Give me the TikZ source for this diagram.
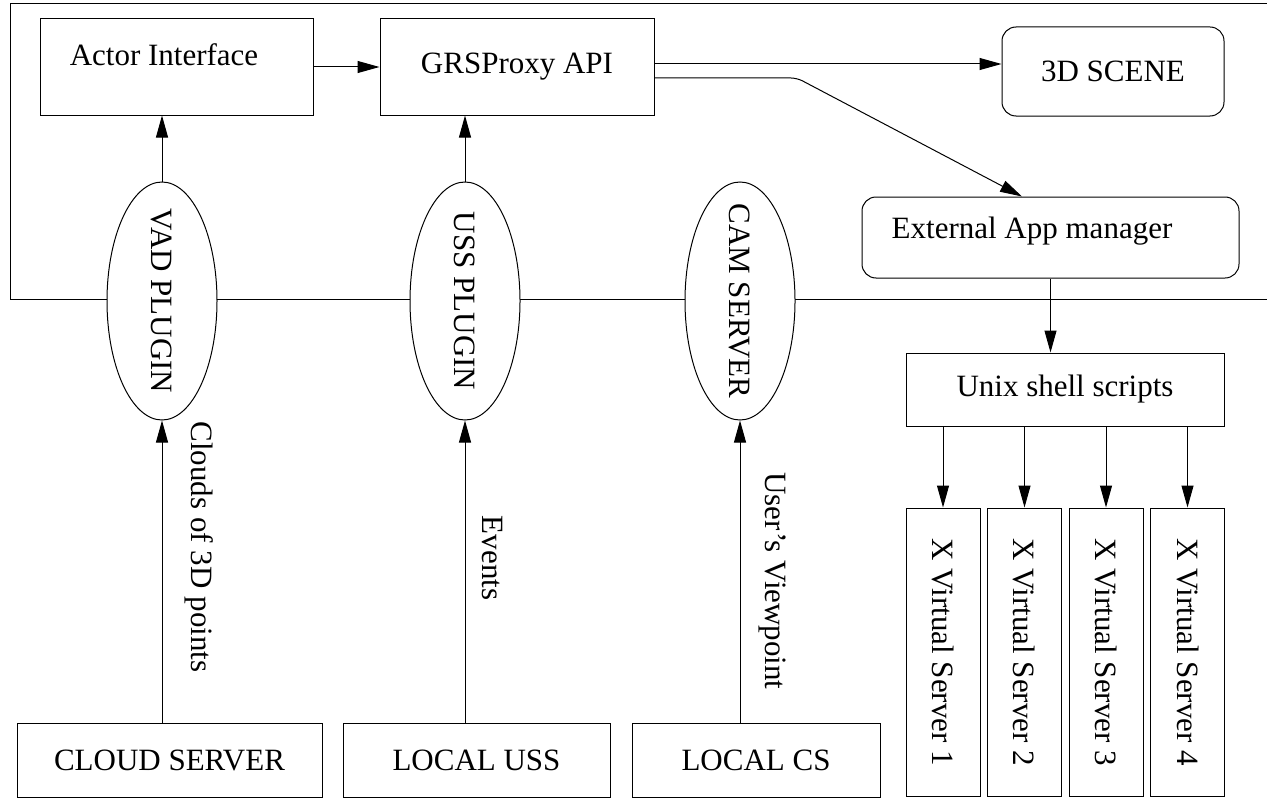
\documentclass[tikz,border=0pt]{standalone}
\usepackage{fontspec}
\setmainfont{Liberation Serif}
\usetikzlibrary{arrows.meta,shapes.geometric}
\tikzset{
  box/.style={draw, rectangle, inner sep=0pt},
  rbox/.style={draw, rectangle, rounded corners=7pt, inner sep=0pt},
  plugin/.style={draw, ellipse, fill=white, inner sep=0pt, minimum width=55pt, minimum height=119pt},
  vtext/.style={rotate=-90, inner sep=0pt},
}

\begin{document}
\begin{tikzpicture}[x=0.5pt, y=-0.5pt, line width=0.5pt, >={Triangle[length=11pt,width=6pt]}, font=\fontsize{15.5}{18}\selectfont]
  \useasboundingbox (0,0) rectangle (1267,797);
  % outer frame
  \draw (1268,4) -- (10,4) -- (10,299.5) -- (1268,299.5);

  % top row
  \node[box, minimum width=136.5pt, minimum height=48pt, label={[shift={(-6.25pt,6pt)}]center:Actor Interface}] (actor) at (176.5,67) {};
  \node[box, minimum width=137pt, minimum height=48pt] (grs) at (517,67) {GRSProxy API};
  \node[rbox, minimum width=111pt, minimum height=44.5pt] (scene) at (1113,71.5) {3D SCENE};
  \node[rbox, minimum width=188.5pt, minimum height=40.5pt, label={[shift={(-9.25pt,3.25pt)}]center:External App manager}] (extapp) at (1050.5,237.5) {};
  \node[box, minimum width=159pt, minimum height=36.5pt] (unix) at (1065,389.5) {Unix shell scripts};

  % plugins on the frame
  \node[plugin, label={[rotate=-90]center:VAD PLUGIN}] (vad) at (162,301) {};
  \node[plugin, label={[rotate=-90]center:USS PLUGIN}] (uss) at (465,301) {};
  \node[plugin, label={[rotate=-90]center:CAM SERVER}] (cam) at (740,301) {};

  % X servers
  \foreach \i/\x in {1/943,2/1024.5,3/1106,4/1187.5}
    \node[box, minimum width=37pt, minimum height=144pt, label={[rotate=-90]center:X Virtual Server \i}] (xvs\i) at (\x,652) {};

  % sources
  \node[box, minimum width=152.5pt, minimum height=37pt] (cloud) at (169.5,760) {CLOUD SERVER};
  \node[box, minimum width=133.5pt, minimum height=37pt] (luss) at (476.5,760) {LOCAL USS};
  \node[box, minimum width=124pt, minimum height=37pt] (lcs) at (756,760) {LOCAL CS};

  % connectors
  \draw[->] (actor) -- (grs);
  \draw[->] ([yshift=1.5pt]grs.east) -- ([yshift=1.5pt]grs.east -| scene.west);
  \coordinate (bend) at (797,78);
  \draw[->, rounded corners=3pt] ([yshift=-5.5pt]grs.east) -- (bend) -- ([xshift=-14.25pt]extapp.north);
  \draw[->] (extapp.south) -- (extapp.south |- unix.north);
  \foreach \i in {1,...,4}
    \draw[->] (xvs\i.north |- unix.south) -- (xvs\i.north);

  \draw[->] (vad.north) -- (vad.north |- actor.south);
  \draw[->] (uss.north) -- (uss.north |- grs.south);
  \draw[->] (cloud.north -| vad.south) -- (vad.south);
  \draw[->] (luss.north -| uss.south) -- (uss.south);
  \draw[->] (lcs.north -| cam.south) -- (cam.south);

  % flow labels
  \node[vtext] (cloudlbl) at (199,547) {Clouds of 3D points};
  \node[vtext] (evlbl) at (492,558) {Events};
  \node[vtext] (vplbl) at (772,581) {User's Viewpoint};
\end{tikzpicture}
\end{document}
